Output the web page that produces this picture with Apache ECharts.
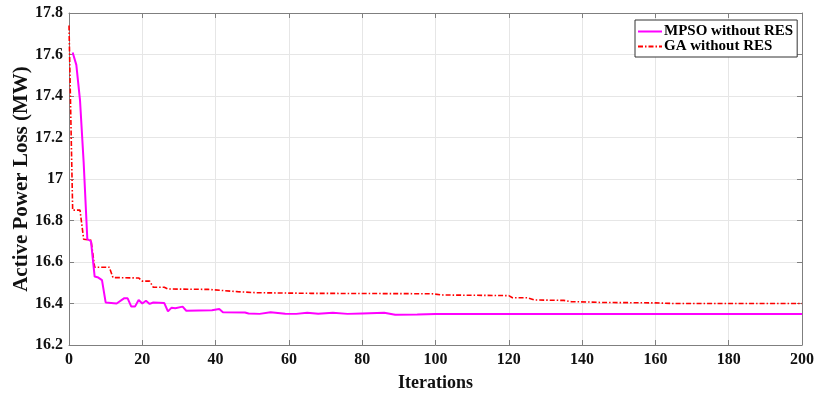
<!DOCTYPE html>
<html>
<head>
<meta charset="utf-8">
<script src="https://cdn.jsdelivr.net/npm/echarts@6/dist/echarts.min.js"></script>
<style>
  html, body { margin: 0; padding: 0; background: #fff; }
  #chart { width: 814px; height: 394px; }
</style>
</head>
<body>
<div id="chart"></div>
<script>
// GA without RES: breakpoints
const gaIter = [0, 1, 3, 4, 6, 7, 11, 12, 19, 20, 22, 23, 26, 27, 38, 46, 51, 66, 99, 102, 120, 121, 125, 127, 135, 137, 142, 145, 160, 165, 200];
const gaLoss = [17.74, 16.85, 16.85, 16.71, 16.705, 16.575, 16.575, 16.525, 16.523, 16.508, 16.508, 16.478, 16.478, 16.47, 16.468, 16.457, 16.452, 16.449, 16.447, 16.441, 16.438, 16.428, 16.428, 16.417, 16.415, 16.409, 16.407, 16.405, 16.403, 16.4, 16.4];

// MPSO without RES
const mpsoIter = [1, 2, 3, 4, 5, 6, 7, 8, 9, 10, 13, 15, 16, 17, 18, 19, 20, 21, 22, 23, 26, 27, 28, 29, 31, 32, 39, 41, 42, 48, 49, 52, 55, 59, 62, 65, 68, 72, 76, 80, 86, 89, 95, 100, 200];
const mpsoLoss = [17.61, 17.55, 17.38, 17.08, 16.71, 16.70, 16.53, 16.525, 16.513, 16.405, 16.40, 16.425, 16.425, 16.385, 16.385, 16.417, 16.40, 16.413, 16.398, 16.405, 16.402, 16.362, 16.38, 16.377, 16.385, 16.365, 16.367, 16.373, 16.358, 16.357, 16.352, 16.35, 16.358, 16.351, 16.35, 16.355, 16.351, 16.355, 16.35, 16.352, 16.355, 16.346, 16.347, 16.349, 16.349];

const seriesNames = ["MPSO without RES", "GA without RES"];
const xMin = 0, xMax = 200, xStep = 20;
const yMin = 16.2, yMax = 17.8, yStep = 0.2;

const pairs = (xs, ys) => xs.map((x, i) => [x, ys[i]]);

const font = "'Liberation Serif', 'Times New Roman', serif";
const axisGray = "#7f7f7f";
const gridGray = "#e6e6e6";

const chart = echarts.init(document.getElementById("chart"), null, { renderer: "canvas" });

const boxAxis = (extra) => Object.assign({
  type: "value",
  axisLine: { show: true, onZero: false, lineStyle: { color: axisGray, width: 1 } },
  axisTick: { show: true, inside: true, length: 5, lineStyle: { color: axisGray } },
  axisLabel: { show: false },
  splitLine: { show: false }
}, extra);

chart.setOption({
  backgroundColor: "#fff",
  animation: false,
  grid: { left: 69, right: 12, top: 13, bottom: 49, containLabel: false, outerBoundsMode: "none" },
  legend: {
    left: 635,
    top: 20,
    orient: "vertical",
    backgroundColor: "#fff",
    borderColor: "#333",
    borderWidth: 1,
    borderRadius: 0,
    padding: [4, 4, 3, 2],
    itemGap: 0,
    itemWidth: 24,
    itemHeight: 12,
    itemStyle: { opacity: 0 },
    textStyle: { fontFamily: font, fontWeight: "bold", fontSize: 15, color: "#000", padding: [0, 0, 0, -3] },
    data: seriesNames
  },
  xAxis: [
    boxAxis({
      min: xMin, max: xMax, interval: xStep,
      position: "bottom",
      name: "Iterations",
      nameLocation: "middle",
      nameGap: 29,
      nameMoveOverlap: false,
      nameTextStyle: { fontFamily: font, fontWeight: "bold", fontSize: 18, color: "#111" },
      axisLabel: { show: true, margin: 7, fontFamily: font, fontWeight: "bold", fontSize: 16, color: "#111" },
      splitLine: { show: true, lineStyle: { color: gridGray, width: 1 } }
    }),
    boxAxis({ min: xMin, max: xMax, interval: xStep, position: "top" })
  ],
  yAxis: [
    boxAxis({
      min: yMin, max: yMax, interval: yStep,
      position: "left",
      name: "Active Power Loss (MW)",
      nameLocation: "middle",
      nameGap: 37,
      nameMoveOverlap: false,
      nameTextStyle: { fontFamily: font, fontWeight: "bold", fontSize: 21, color: "#111" },
      axisLabel: {
        show: true, margin: 6, fontFamily: font, fontWeight: "bold", fontSize: 16, color: "#111",
        formatter: (v) => String(+v.toFixed(1))
      },
      splitLine: { show: true, lineStyle: { color: gridGray, width: 1 } }
    }),
    boxAxis({ min: yMin, max: yMax, interval: yStep, position: "right" })
  ],
  series: [
    {
      name: seriesNames[0],
      type: "line",
      symbol: "none",
      z: 3,
      lineStyle: { color: "#ff00ff", width: 2 },
      itemStyle: { color: "#ff00ff" },
      data: pairs(mpsoIter, mpsoLoss)
    },
    {
      name: seriesNames[1],
      type: "line",
      symbol: "none",
      z: 2,
      lineStyle: { color: "#ff0000", width: 1.6, type: [5, 2, 1.5, 2] },
      itemStyle: { color: "#ff0000" },
      data: pairs(gaIter, gaLoss)
    }
  ]
});
</script>
</body>
</html>
